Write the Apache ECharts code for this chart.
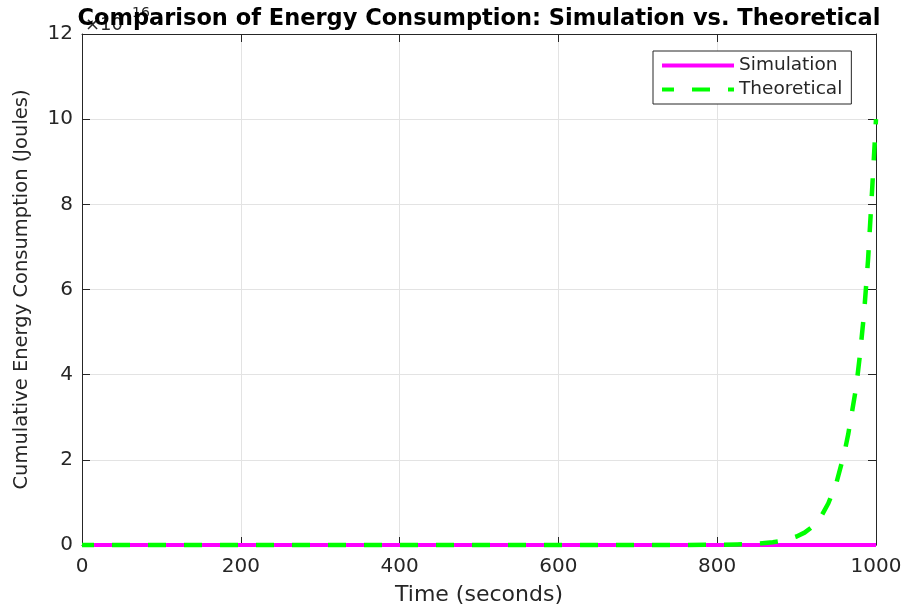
<!DOCTYPE html>
<html>
<head>
<meta charset="utf-8">
<script src="https://cdn.jsdelivr.net/npm/echarts@6/dist/echarts.min.js"></script>
<style>html,body{margin:0;padding:0;background:#fff}#c{width:901px;height:606px}</style>
</head>
<body>
<div id="c"></div>
<script>
// Data (time in seconds, energy in Joules)
const timeSec      = [0, 100, 200, 300, 400, 500, 600, 700, 750, 800, 825, 850, 860, 870, 880, 890, 900, 910, 920, 930, 940, 950, 960, 965, 970, 975, 980, 985, 990, 995, 1000];
const theoreticalJ = [0, 0, 0, 0, 0, 0, 0, 0.001e16, 0.002e16, 0.004e16, 0.011e16, 0.028e16, 0.045e16, 0.065e16, 0.095e16, 0.14e16, 0.2e16, 0.29e16, 0.43e16, 0.64e16, 0.98e16, 1.45e16, 2.15e16, 2.6e16, 3.15e16, 3.7e16, 4.5e16, 5.45e16, 6.7e16, 8.3e16, 10.0e16];
const simTimeSec   = [0, 100, 200, 300, 400, 500, 600, 700, 800, 900, 1000];
const simulationJ  = [0, 0, 0, 0, 0, 0, 0, 0, 0, 0, 0];
const xTicks = [0, 200, 400, 600, 800, 1000];
const yTicks = [0, 2, 4, 6, 8, 10, 12];
const yScale = 1e16;

const FONT = '"DejaVu Sans", "Liberation Sans", Arial, sans-serif';
const AX = '#262626';

const chart = echarts.init(document.getElementById('c'), null, {renderer: 'canvas'});
const grid = {left: 82, top: 34, width: 794, height: 511, containLabel: false, outerBoundsMode: 'none'};

const option = {
  animation: false,
  backgroundColor: '#ffffff',
  title: {
    text: 'Comparison of Energy Consumption: Simulation vs. Theoretical',
    left: 479, top: 8, textAlign: 'center', padding: 0, z: 10,
    textStyle: {fontFamily: FONT, fontSize: 22.5, fontWeight: 'bold', color: '#000'}
  },
  graphic: [{
    type: 'text', left: 85, top: 16, z: 1,
    style: {text: '×10', font: '18px ' + FONT, fill: AX}
  }, {
    type: 'text', left: 132, top: 6, z: 1,
    style: {text: '16', font: '14px ' + FONT, fill: AX}
  }],
  legend: {
    orient: 'vertical', left: 653, top: 51,
    padding: [5, 9, 5, 7], itemGap: 5,
    itemWidth: 72, itemHeight: 18,
    backgroundColor: '#fff', borderColor: AX, borderWidth: 1, borderRadius: 0,
    textStyle: {fontFamily: FONT, fontSize: 18.5, color: AX},
    itemStyle: {opacity: 0, color: 'transparent', borderColor: 'transparent'},
    lineStyle: {width: 4},
    data: ['Simulation', 'Theoretical']
  },
  grid: grid,
  xAxis: [{
    type: 'value', min: 0, max: 1000, interval: 200,
    name: 'Time (seconds)', nameLocation: 'middle', nameGap: 39,
    nameTextStyle: {fontFamily: FONT, fontSize: 22, color: AX},
    axisLine: {show: true, onZero: false, lineStyle: {color: AX, width: 1}},
    axisTick: {show: true, inside: true, length: 8, lineStyle: {color: AX}},
    axisLabel: {fontFamily: FONT, fontSize: 20, color: AX, margin: 12,
      formatter: v => (xTicks.indexOf(v) >= 0 ? String(v) : '')},
    splitLine: {show: true, lineStyle: {color: '#e3e3e3', width: 1}}
  }, {
    type: 'value', min: 0, max: 1000, interval: 200, position: 'top',
    axisLine: {show: true, onZero: false, lineStyle: {color: AX, width: 1}},
    axisTick: {show: true, inside: true, length: 8, lineStyle: {color: AX}},
    axisLabel: {show: false}, splitLine: {show: false}
  }],
  yAxis: [{
    type: 'value', min: 0, max: 12 * yScale, interval: 2 * yScale,
    name: 'Cumulative Energy Consumption (Joules)', nameLocation: 'middle', nameGap: 50,
    nameTextStyle: {fontFamily: FONT, fontSize: 19.5, color: AX},
    axisLine: {show: true, onZero: false, lineStyle: {color: AX, width: 1}},
    axisTick: {show: true, inside: true, length: 8, lineStyle: {color: AX}},
    axisLabel: {fontFamily: FONT, fontSize: 20, color: AX, margin: 9,
      formatter: v => { const t = Math.round(v / yScale); return yTicks.indexOf(t) >= 0 ? String(t) : ''; }},
    splitLine: {show: true, lineStyle: {color: '#e3e3e3', width: 1}}
  }, {
    type: 'value', min: 0, max: 12 * yScale, interval: 2 * yScale, position: 'right',
    axisLine: {show: true, onZero: false, lineStyle: {color: AX, width: 1}},
    axisTick: {show: true, inside: true, length: 8, lineStyle: {color: AX}},
    axisLabel: {show: false}, splitLine: {show: false}
  }],
  series: [{
    name: 'Simulation', type: 'line', xAxisIndex: 0, yAxisIndex: 0,
    data: simTimeSec.map((t, i) => [t, simulationJ[i]]),
    showSymbol: false, symbol: 'none', clip: false, z: 3,
    color: '#ff00ff',
    lineStyle: {color: '#ff00ff', width: 4}
  }, {
    name: 'Theoretical', type: 'line', xAxisIndex: 0, yAxisIndex: 0,
    data: timeSec.map((t, i) => [t, theoreticalJ[i]]),
    showSymbol: false, symbol: 'none', clip: false, z: 4, smooth: false,
    color: '#00ff00',
    lineStyle: {color: '#00ff00', width: 4.5, type: [18, 18], dashOffset: 6, join: 'round'}
  }]
};
chart.setOption(option);
</script>
</body>
</html>
